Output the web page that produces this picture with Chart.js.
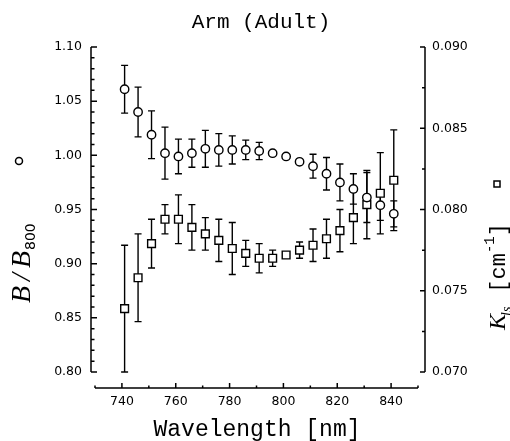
<!DOCTYPE html>
<html>
<head>
<meta charset="utf-8">
<script src="https://cdn.jsdelivr.net/npm/chart.js@4.4.1/dist/chart.umd.min.js"></script>
<style>
  body { margin: 0; background: #fff; }
</style>
</head>
<body>
<canvas id="myChart" width="510" height="441"></canvas>
<script>
// wavelength of each measurement [nm]
const wavelength = [741, 746, 751, 756, 761, 766, 771, 776, 781, 786, 791,
                    796, 801, 806, 811, 816, 821, 826, 831, 836, 841];

// normalised backscatter B/B800 (circles, left axis)
const ratio = [1.061, 1.040, 1.019, 1.002, 0.999, 1.002, 1.006, 1.005, 1.005, 1.005, 1.004,
               1.002, 0.999, 0.994, 0.990, 0.983, 0.975, 0.969, 0.961, 0.954, 0.946];
const ratioErr = [0.022, 0.023, 0.022, 0.024, 0.016, 0.013, 0.017, 0.015, 0.013, 0.009, 0.008,
                  0, 0, 0, 0.011, 0.015, 0.017, 0.014, 0.023, 0.014, 0.012];

// scattering coefficient K_ls [cm^-1] (squares, right axis)
const kls = [0.0739, 0.0758, 0.0779, 0.0794, 0.0794, 0.0789, 0.0785, 0.0781, 0.0776, 0.0773, 0.0770,
             0.0770, 0.0772, 0.0775, 0.0778, 0.0782, 0.0787, 0.0795, 0.0803, 0.0810, 0.0818];
const klsErr = [0.0039, 0.0027, 0.0015, 0.0009, 0.0015, 0.0014, 0.0010, 0.0013, 0.0016, 0.0008, 0.0009,
                0.0005, 0, 0.0005, 0.0010, 0.0012, 0.0013, 0.0016, 0.0021, 0.0025, 0.0031];

// labelled ticks
const xTicks = [740, 760, 780, 800, 820, 840];
const ratioTicks = [0.80, 0.85, 0.90, 0.95, 1.00, 1.05, 1.10];
const klsTicks = [0.070, 0.075, 0.080, 0.085, 0.090];

const tickFont = { family: 'DejaVu Sans', size: 12.5 };

function drawErrorBars(ctx, xs, ys, errs, xScale, yScale) {
    for (let i = 0; i < xs.length; i++) {
        if (!errs[i]) continue;
        const px = xScale.getPixelForValue(xs[i]);
        const top = yScale.getPixelForValue(ys[i] + errs[i]);
        const bot = yScale.getPixelForValue(ys[i] - errs[i]);
        ctx.beginPath();
        ctx.moveTo(px, top); ctx.lineTo(px, bot);
        ctx.moveTo(px - 3.5, top); ctx.lineTo(px + 3.5, top);
        ctx.moveTo(px - 3.5, bot); ctx.lineTo(px + 3.5, bot);
        ctx.stroke();
    }
}

const frame = {
    id: 'frame',
    beforeDatasetsDraw(chart) {
        const { ctx, scales } = chart;
        ctx.save();
        ctx.strokeStyle = '#000';
        ctx.lineWidth = 1.4;
        drawErrorBars(ctx, wavelength, ratio, ratioErr, scales.x, scales.y);
        drawErrorBars(ctx, wavelength, kls, klsErr, scales.x, scales.y2);
        ctx.restore();
    },
    afterDraw(chart) {
        const { ctx, chartArea, scales } = chart;
        const x = scales.x, yl = scales.y, yr = scales.y2;
        ctx.save();
        ctx.strokeStyle = '#000';
        ctx.fillStyle = '#000';
        ctx.lineWidth = 1.5;

        // left axis, ticks pointing inward
        const lx = chartArea.left - 4;
        ctx.beginPath();
        ctx.moveTo(lx, yl.getPixelForValue(yl.max));
        ctx.lineTo(lx, yl.getPixelForValue(yl.min));
        for (let k = 0; k <= 30; k++) {
            const v = yl.min + k * 0.01;
            const p = yl.getPixelForValue(v);
            ctx.moveTo(lx, p);
            ctx.lineTo(lx + (k % 5 === 0 ? 6 : 3.5), p);
        }
        ctx.stroke();

        // right axis
        const rx = chartArea.right + 7;
        ctx.beginPath();
        ctx.moveTo(rx, yr.getPixelForValue(yr.max));
        ctx.lineTo(rx, yr.getPixelForValue(yr.min));
        for (let k = 0; k <= 8; k++) {
            const v = yr.min + k * 0.0025;
            const p = yr.getPixelForValue(v);
            ctx.moveTo(rx, p);
            ctx.lineTo(rx - (k % 2 === 0 ? 5 : 3), p);
        }
        ctx.stroke();

        // detached x axis below the plot
        const by = chartArea.bottom + 16;
        ctx.beginPath();
        ctx.moveTo(x.getPixelForValue(x.min), by);
        ctx.lineTo(x.getPixelForValue(x.max), by);
        for (let v = x.min; v <= x.max; v += 10) {
            const p = x.getPixelForValue(v);
            ctx.moveTo(p, by);
            ctx.lineTo(p, by - ((v - 740) % 20 === 0 ? 5 : 2.5));
        }
        ctx.stroke();

        // titles
        ctx.textAlign = 'center';
        ctx.textBaseline = 'alphabetic';
        ctx.font = '21px "Liberation Mono"';
        ctx.fillText('Arm (Adult)', 261, 28);
        ctx.font = '23px "Liberation Mono"';
        ctx.fillText('Wavelength [nm]', 257, 436);

        // left axis title: B/B800 with circle symbol
        ctx.textAlign = 'left';
        ctx.save();
        ctx.translate(30, 303);
        ctx.rotate(-Math.PI / 2);
        ctx.letterSpacing = '5px';
        ctx.font = 'italic 28px "Liberation Serif"';
        ctx.fillText('B/B', 0, 0);
        let w = ctx.measureText('B/B').width - 5;
        ctx.letterSpacing = '0px';
        ctx.font = '14px "DejaVu Sans"';
        ctx.fillText('800', w + 1, 5);
        ctx.restore();
        ctx.beginPath();
        ctx.arc(19, 161, 3.5, 0, Math.PI * 2);
        ctx.stroke();

        // right axis title: K_ls [cm^-1] with square symbol
        ctx.save();
        ctx.translate(505, 330);
        ctx.rotate(-Math.PI / 2);
        ctx.font = 'italic 24px "Liberation Serif"';
        ctx.fillText('K', 0, 0);
        w = ctx.measureText('K').width;
        ctx.font = 'italic 14px "Liberation Serif"';
        ctx.fillText('ls', w - 2, 6);
        w += ctx.measureText('ls').width + 12;
        ctx.font = '22px "Liberation Mono"';
        ctx.fillText('[cm', w, 0);
        w += ctx.measureText('[cm').width;
        ctx.font = '14px "Liberation Mono"';
        ctx.fillText('-1', w, -11);
        w += ctx.measureText('-1').width;
        ctx.font = '22px "Liberation Mono"';
        ctx.fillText(']', w, 0);
        ctx.restore();
        ctx.strokeRect(494, 181, 6, 6);

        ctx.restore();
    }
};

new Chart(document.getElementById('myChart'), {
    type: 'scatter',
    data: {
        datasets: [{
            label: 'B/B800',
            data: wavelength.map((w, i) => ({ x: w, y: ratio[i] })),
            yAxisID: 'y',
            pointStyle: 'circle',
            pointRadius: 4.2,
            borderColor: '#000',
            backgroundColor: '#fff',
            borderWidth: 1.4
        }, {
            label: 'K_ls',
            data: wavelength.map((w, i) => ({ x: w, y: kls[i] })),
            yAxisID: 'y2',
            pointStyle: 'rect',
            pointRadius: 5.5,
            borderColor: '#000',
            backgroundColor: '#fff',
            borderWidth: 1.4
        }]
    },
    options: {
        responsive: false,
        animation: false,
        events: [],
        layout: { padding: { top: 47 } },
        plugins: { legend: { display: false }, tooltip: { enabled: false } },
        scales: {
            x: {
                type: 'linear',
                min: 730, max: 850,
                grid: { display: false, drawTicks: false },
                border: { display: false },
                afterBuildTicks: s => { s.ticks = xTicks.map(v => ({ value: v })); },
                afterFit: s => { s.height = 69; },
                ticks: { color: '#000', font: tickFont, padding: 22, autoSkip: false, maxRotation: 0 }
            },
            y: {
                position: 'left',
                min: 0.80, max: 1.10,
                grid: { display: false, drawTicks: false },
                border: { display: false },
                afterBuildTicks: s => { s.ticks = ratioTicks.map(v => ({ value: v })); },
                afterFit: s => { s.width = 95; },
                ticks: { color: '#000', font: tickFont, padding: 13, autoSkip: false,
                         callback: v => v.toFixed(2) }
            },
            y2: {
                position: 'right',
                min: 0.070, max: 0.090,
                grid: { display: false, drawTicks: false },
                border: { display: false },
                afterBuildTicks: s => { s.ticks = klsTicks.map(v => ({ value: v })); },
                afterFit: s => { s.width = 92; },
                ticks: { color: '#000', font: tickFont, padding: 14, autoSkip: false,
                         callback: v => v.toFixed(3) }
            }
        }
    },
    plugins: [frame]
});
</script>
</body>
</html>
